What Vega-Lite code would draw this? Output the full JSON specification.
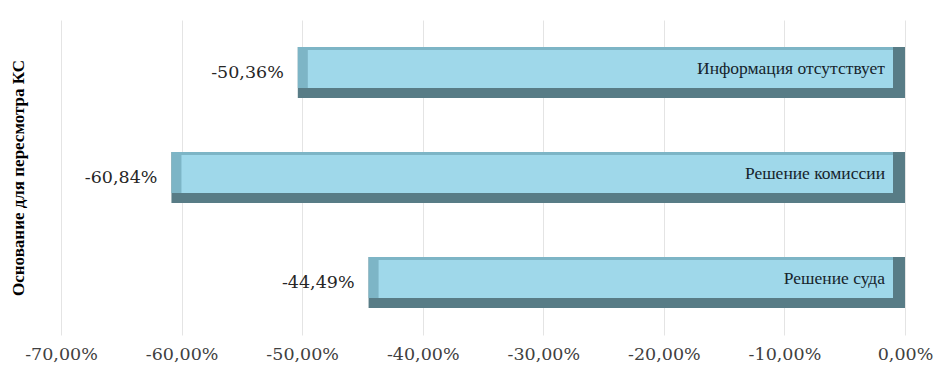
{
  "$schema": "https://vega.github.io/schema/vega-lite/v6.json",
  "width": 844,
  "height": 315,
  "autosize": {"type": "none"},
  "padding": {"left": 61, "top": 20, "right": 43, "bottom": 36},
  "background": "#ffffff",
  "config": {
    "view": {"stroke": null},
    "locale": {
      "number": {"decimal": ",", "thousands": " ", "grouping": [3], "currency": ["", ""], "minus": "-"}
    }
  },
  "data": {
    "values": [
      {"cat": "Информация отсутствует", "value": -0.5036},
      {"cat": "Решение комиссии", "value": -0.6084},
      {"cat": "Решение суда", "value": -0.4449}
    ]
  },
  "encoding": {
    "y": {
      "field": "cat",
      "type": "nominal",
      "sort": ["Информация отсутствует", "Решение комиссии", "Решение суда"],
      "scale": {"paddingInner": 0.5, "paddingOuter": 0.25},
      "axis": {
        "title": "Основание для пересмотра КС",
        "titleFont": "Liberation Serif",
        "titleFontSize": 17,
        "titleFontWeight": "bold",
        "titleColor": "#000000",
        "titlePadding": 34,
        "labels": false,
        "ticks": false,
        "domain": false,
        "grid": false
      }
    }
  },
  "layer": [
    {
      "mark": {"type": "bar", "height": 51, "color": "#587c86"},
      "encoding": {
        "x": {
          "field": "value",
          "type": "quantitative",
          "scale": {"domain": [-0.7, 0], "nice": false},
          "axis": {
            "title": null,
            "values": [-0.7, -0.6, -0.5, -0.4, -0.3, -0.2, -0.1, 0],
            "format": ".2%",
            "labelFont": "DejaVu Serif",
            "labelFontSize": 17.5,
            "labelColor": "#404040",
            "labelPadding": 10,
            "labelFlush": false,
            "labelOverlap": false,
            "grid": true,
            "gridColor": "#e4e4e4",
            "ticks": false,
            "domain": false
          }
        },
        "x2": {"datum": 0}
      }
    },
    {
      "mark": {"type": "bar", "height": 41, "yOffset": -5, "x2Offset": -12, "color": "#7db5c6"},
      "encoding": {
        "x": {"field": "value", "type": "quantitative"},
        "x2": {"datum": 0}
      }
    },
    {
      "mark": {"type": "bar", "height": 38, "yOffset": -3.5, "xOffset": 10, "x2Offset": -12, "color": "#9fd8ea"},
      "encoding": {
        "x": {"field": "value", "type": "quantitative"},
        "x2": {"datum": 0}
      }
    },
    {
      "mark": {"type": "text", "align": "right", "baseline": "middle", "dx": -14, "font": "DejaVu Serif", "fontSize": 17.5, "color": "#262626"},
      "encoding": {
        "x": {"field": "value", "type": "quantitative"},
        "text": {"field": "value", "type": "quantitative", "format": ".2%"}
      }
    },
    {
      "mark": {"type": "text", "align": "right", "baseline": "middle", "dx": -20, "dy": -4, "font": "Liberation Serif", "fontSize": 17.5, "color": "#16242c"},
      "encoding": {
        "x": {"datum": 0},
        "text": {"field": "cat", "type": "nominal"}
      }
    }
  ]
}
